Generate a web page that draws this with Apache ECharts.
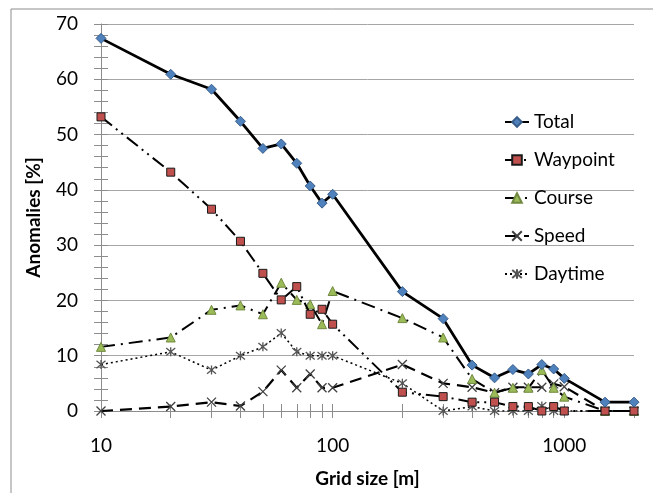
<!DOCTYPE html>
<html>
<head>
<meta charset="utf-8">
<script src="https://cdn.jsdelivr.net/npm/echarts@6/dist/echarts.min.js"></script>
<style>
  html, body { margin: 0; padding: 0; background: #fff; }
  #chart { width: 653px; height: 493px; }
</style>
</head>
<body>
<div id="chart"></div>
<script>
var dom = document.getElementById('chart');
var myChart = echarts.init(dom, null, { renderer: 'canvas' });

// grid sizes [m]
const gridSize = [10, 20, 30, 40, 50, 60, 70, 80, 90, 100, 200, 300, 400, 500, 600, 700, 800, 900, 1000, 1500, 2000];
const total    = [67.4, 60.9, 58.2, 52.4, 47.5, 48.3, 44.8, 40.7, 37.6, 39.2, 21.6, 16.7, 8.3, 6.0, 7.5, 6.7, 8.4, 7.6, 5.9, 1.6, 1.6];
const waypoint = [53.2, 43.2, 36.5, 30.7, 24.9, 20.1, 22.5, 17.5, 18.4, 15.7, 3.4, 2.6, 1.6, 1.6, 0.8, 0.8, 0, 0.8, 0, 0, 0];
const course   = [11.6, 13.3, 18.3, 19.1, 17.5, 23.2, 20.1, 19.3, 15.7, 21.7, 16.8, 13.3, 5.8, 3.3, 4.2, 4.2, 7.4, 4.2, 2.6, 0, 0];
const speed    = [0, 0.8, 1.6, 0.9, 3.5, 7.4, 4.2, 6.7, 4.2, 4.2, 8.4, 5.0, 4.3, 3.3, 4.3, 4.3, 4.3, 4.9, 4.4, 0, 0];
const daytime  = [8.4, 10.7, 7.4, 10.0, 11.6, 14.1, 10.7, 10.0, 10.0, 10.0, 5.0, 0, 0.8, 0, 0, 0, 0.9, 0, 0, 0, 0];

const xLabels = [10, 100, 1000];
const xTicks = [10, 20, 30, 40, 50, 60, 70, 80, 90, 100, 200, 300, 400, 500, 600, 700, 800, 900, 1000, 2000];
const yTicks = [];
for (let v = 0; v <= 70; v += 2) yTicks.push(v);

const font = 'Lato, "Open Sans", sans-serif';
const axisGray = '#8c8c8c';

function pairs(vals) {
  return gridSize.map(function (g, i) { return [g, vals[i]]; });
}

const crossPath = 'path://M0,0L10,10M10,0L0,10';
const starPath = 'path://M0,0L10,10M10,0L0,10M5,-1L5,11';

// excel style ticks cross the axis: one axis draws the outer half, one the inner half
function xAxisCfg(inside, main) {
  return {
    type: 'log',
    logBase: 10,
    min: 10,
    max: 2000,
    position: 'bottom',
    offset: 0,
    name: main ? 'Grid size [m]' : '',
    nameLocation: 'middle',
    nameGap: 58,
    nameTextStyle: { fontFamily: font, fontSize: 19, fontWeight: 'bold', color: '#000' },
    axisLine: { show: main, lineStyle: { color: axisGray, width: 1 } },
    axisTick: { show: true, inside: inside, length: 7, customValues: xTicks, lineStyle: { color: axisGray } },
    axisLabel: {
      show: main, customValues: xLabels, fontFamily: font, fontSize: 19, color: '#000', margin: 25,
      formatter: function (v) { return String(Math.round(v)); }
    },
    splitLine: { show: false },
    minorTick: { show: false }
  };
}

function yAxisCfg(kind) {
  const main = kind === 'main';
  return {
    type: 'value',
    min: 0,
    max: 70,
    interval: 10,
    position: 'left',
    offset: 0,
    name: main ? 'Anomalies [%]' : '',
    nameLocation: 'middle',
    nameGap: 58,
    nameRotate: 90,
    nameTextStyle: { fontFamily: font, fontSize: 19, fontWeight: 'bold', color: '#000' },
    axisLine: { show: main, lineStyle: { color: axisGray, width: 1 } },
    axisTick: main
      ? { show: true, inside: false, length: 7, lineStyle: { color: axisGray } }
      : { show: true, inside: kind === 'in', length: 7, customValues: yTicks, lineStyle: { color: axisGray } },
    axisLabel: { show: main, fontFamily: font, fontSize: 19, color: '#000', margin: 23 },
    splitLine: { show: main, lineStyle: { color: '#a6a6a6', width: 1 } }
  };
}

var option = {
  backgroundColor: '#fff',
  animation: false,
  graphic: [{
    type: 'rect',
    shape: { x: 11, y: 9, width: 700, height: 520 },
    style: { fill: 'none', stroke: '#8c8c8c', lineWidth: 1 },
    silent: true,
    z: -10
  }],
  grid: { left: 101, right: 19, top: 24, bottom: 82 },
  legend: {
    orient: 'vertical',
    left: 499,
    top: 107,
    itemWidth: 24,
    itemHeight: 12,
    itemGap: 18,
    textStyle: { fontFamily: font, fontSize: 19, color: '#000', lineHeight: 20 },
    data: ['Total', 'Waypoint', 'Course', 'Speed', 'Daytime']
  },
  xAxis: [xAxisCfg(false, true), xAxisCfg(true, false)],
  yAxis: [yAxisCfg('main'), yAxisCfg('in'), yAxisCfg('out')],
  series: [
    {
      name: 'Total', type: 'line', data: pairs(total),
      symbol: 'diamond', symbolSize: 10,
      lineStyle: { color: '#000', width: 2.8, type: 'solid' },
      itemStyle: { color: '#4f81bd', borderColor: '#385d8a', borderWidth: 1 },
      z: 6
    },
    {
      name: 'Waypoint', type: 'line', data: pairs(waypoint),
      symbol: 'rect', symbolSize: 8,
      lineStyle: { color: '#000', width: 2, type: [14, 5, 2, 5, 2, 5] },
      itemStyle: { color: '#c0504d', borderColor: '#1a1a1a', borderWidth: 1 },
      z: 5
    },
    {
      name: 'Course', type: 'line', data: pairs(course),
      symbol: 'triangle', symbolSize: 9,
      lineStyle: { color: '#000', width: 2, type: [14, 6, 2, 6] },
      itemStyle: { color: '#9bbb59', borderColor: '#71893f', borderWidth: 1 },
      z: 4
    },
    {
      name: 'Speed', type: 'line', data: pairs(speed),
      symbol: crossPath, symbolSize: 9,
      lineStyle: { color: '#000', width: 2.2, type: [12, 7] },
      itemStyle: { color: 'rgba(0,0,0,0)', borderColor: '#404040', borderWidth: 1.3 },
      z: 3
    },
    {
      name: 'Daytime', type: 'line', data: pairs(daytime),
      symbol: starPath, symbolSize: 9,
      lineStyle: { color: '#000', width: 1.5, type: [2, 3] },
      itemStyle: { color: 'rgba(0,0,0,0)', borderColor: '#555', borderWidth: 1.3 },
      z: 2
    }
  ]
};

myChart.setOption(option);
window.addEventListener('resize', myChart.resize);
</script>
</body>
</html>
